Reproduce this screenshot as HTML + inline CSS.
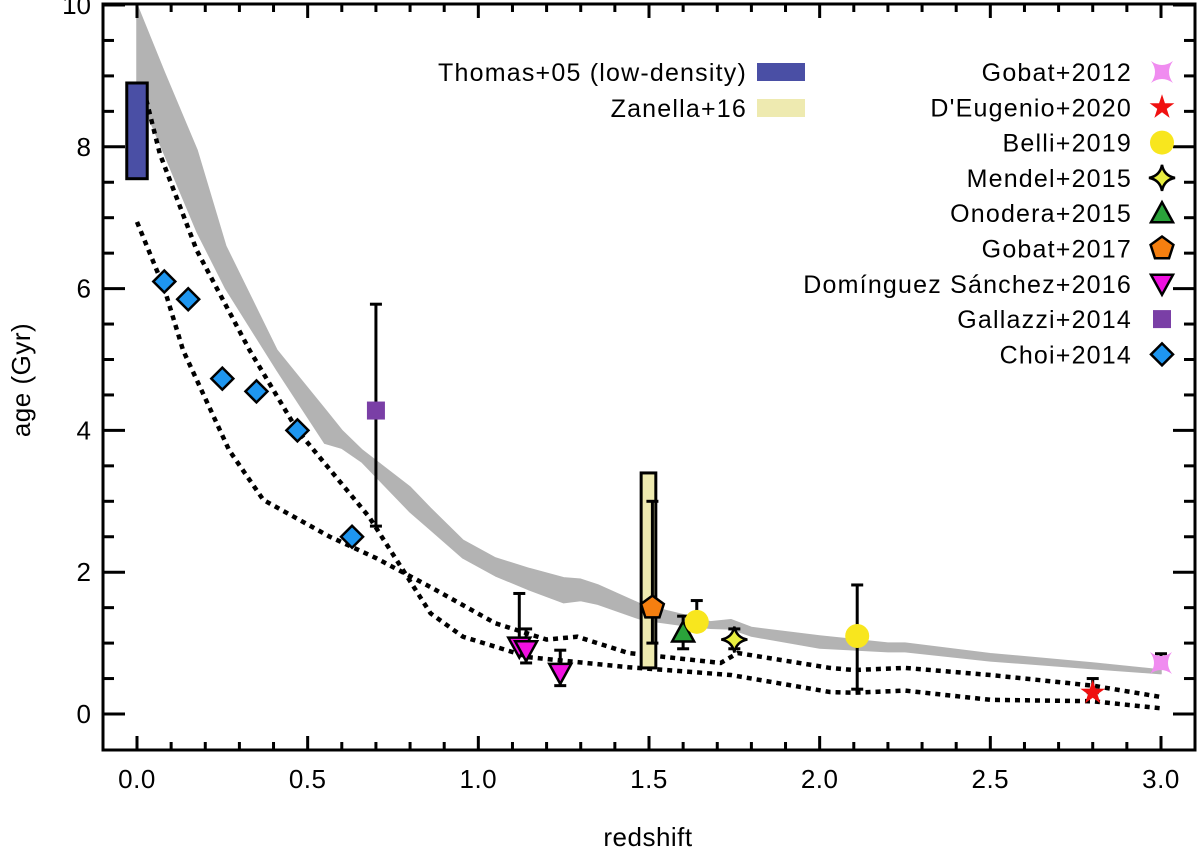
<!DOCTYPE html>
<html><head><meta charset="utf-8"><style>
html,body{margin:0;padding:0;background:#fff}
svg{display:block;font-family:"Liberation Sans",Arial,sans-serif}
</style></head><body>
<svg id="chart" width="1200" height="852" viewBox="0 0 1200 852"></svg>
<script>
const xTicks=[0,0.5,1.0,1.5,2.0,2.5,3.0];
const xTickLabels=["0.0","0.5","1.0","1.5","2.0","2.5","3.0"];
const yTicks=[0,2,4,6,8,10];
const yTickLabels=["0","2","4","6","8","10"];
const bandZ=[0,0.08,0.176,0.26,0.41,0.55,0.6,0.66,0.8,0.86,0.955,1.05,1.15,1.25,1.3,1.35,1.48,1.6,1.68,1.74,1.8,2.0,2.2,2.25,2.5,2.8,3.0];
const bandUpper=[10,9.05,7.95,6.6,5.13,4.3,4.0,3.72,3.2,2.9,2.45,2.2,2.05,1.92,1.9,1.82,1.54,1.4,1.3,1.33,1.22,1.1,1.0,1.0,0.85,0.72,0.62];
const bandLower=[8.8,7.9,6.8,6.0,4.85,3.82,3.75,3.55,2.85,2.6,2.2,1.95,1.75,1.57,1.6,1.55,1.33,1.25,1.21,1.2,1.1,0.93,0.88,0.88,0.75,0.64,0.57];
const lineAZ=[0.02,0.067,0.175,0.33,0.47,0.68,0.86,0.955,1.15,1.44,1.74,2.03,2.1,2.25,2.5,2.8,3.0];
const lineAV=[8.8,7.9,6.54,5.13,4.0,2.78,1.42,1.09,0.8,0.66,0.55,0.31,0.3,0.33,0.2,0.18,0.08];
const lineBZ=[0,0.08,0.135,0.27,0.37,0.565,0.7,0.86,1.05,1.2,1.29,1.44,1.71,1.76,2.03,2.1,2.25,2.5,2.8,3.0];
const lineBV=[6.94,6.0,5.13,3.72,3.02,2.5,2.2,1.79,1.28,1.05,1.09,0.86,0.72,0.86,0.65,0.62,0.65,0.55,0.4,0.24];
const choiZ=[0.08,0.15,0.25,0.35,0.47,0.63];
const choiAge=[6.1,5.85,4.73,4.55,4.0,2.5];
const gallazzi=[0.7,4.28,2.65,5.78];
const domZ=[1.12,1.14,1.24];
const domAge=[0.95,0.9,0.58];
const domLo=[0.95,0.72,0.4];
const domHi=[1.7,1.2,0.9];
const zanellaBox=[1.477,1.52,0.65,3.4];
const thomasBox=[-0.03,0.03,7.55,8.9];
const gobat17=[1.51,1.5,1.0,3.0];
const onodera=[1.6,1.15,0.92,1.38];
const belliZ=[1.64,2.11];
const belliAge=[1.3,1.1];
const belliLo=[1.3,0.35];
const belliHi=[1.6,1.82];
const mendel=[1.75,1.05,0.92,1.2];
const deugenio=[2.8,0.3,0.3,0.5];
const gobat12=[3.0,0.72,0.72,0.85];

const NS="http://www.w3.org/2000/svg";
const svg=document.getElementById('chart');
const X=z=>137+341.33*z;
const Y=v=>714-70.9*v;
function mk(tag,attrs,parent){const e=document.createElementNS(NS,tag);for(const k in attrs)e.setAttribute(k,attrs[k]);(parent||svg).appendChild(e);return e;}
const L=103,R=1195,T=4,B=750;

let d="";bandZ.forEach((z,i)=>{d+=(i?"L":"M")+X(z)+","+Y(bandUpper[i]);});
for(let i=bandZ.length-1;i>=0;i--)d+="L"+X(bandZ[i])+","+Y(bandLower[i]);
let band=mk('path',{d:d+"Z",fill:"#b3b3b3","stroke":"#b3b3b3","stroke-width":1.5,"stroke-linejoin":"round"});



function dotted(zs,vs,name){let p="";zs.forEach((z,i)=>{p+=(i?"L":"M")+X(z)+","+Y(vs[i]);});
const e=mk('path',{d:p,fill:"none",stroke:"#000","stroke-width":4.5,"stroke-dasharray":"5,5"});

}
dotted(lineAZ,lineAV,'dotted-track-a');
dotted(lineBZ,lineBV,'dotted-track-b');

function errbar(z,lo,hi,name){const g=mk('g',{stroke:"#000","stroke-width":3});


mk('line',{x1:X(z),x2:X(z),y1:Y(lo),y2:Y(hi)},g);
mk('line',{x1:X(z)-6,x2:X(z)+6,y1:Y(hi),y2:Y(hi)},g);
if(lo!==hi)mk('line',{x1:X(z)-6,x2:X(z)+6,y1:Y(lo),y2:Y(lo)},g);}

function box(b,fill,name){const e=mk('rect',{x:X(b[0]),y:Y(b[3]),width:X(b[1])-X(b[0]),height:Y(b[2])-Y(b[3]),fill:fill,stroke:"#000","stroke-width":3});

}
box(thomasBox,"#4a4fa5",'thomas05-box');
box(zanellaBox,"#eeeab0",'zanella16-box');

function marker(type,cx,cy,parent,name){let e;
if(type==="diamond")e=mk('path',{d:`M${cx},${cy-11}L${cx+11},${cy}L${cx},${cy+11}L${cx-11},${cy}Z`,fill:"#1e96f0",stroke:"#000","stroke-width":2.5},parent);
else if(type==="square")e=mk('rect',{x:cx-9,y:cy-9,width:18,height:18,fill:"#7a3fa6"},parent);
else if(type==="tridown")e=mk('path',{d:`M${cx-11},${cy-9}L${cx+11},${cy-9}L${cx},${cy+11}Z`,fill:"#f010e0",stroke:"#000","stroke-width":2.5},parent);
else if(type==="triup")e=mk('path',{d:`M${cx-11},${cy+9}L${cx+11},${cy+9}L${cx},${cy-11}Z`,fill:"#2aa33a",stroke:"#000","stroke-width":2.5},parent);
else if(type==="pent"){let p="";for(let k=0;k<5;k++){const a=-Math.PI/2+k*2*Math.PI/5;p+=(k?"L":"M")+(cx+12*Math.cos(a))+","+(cy+12*Math.sin(a));}
e=mk('path',{d:p+"Z",fill:"#f57f10",stroke:"#000","stroke-width":2.5},parent);}
else if(type==="circle")e=mk('circle',{cx:cx,cy:cy,r:12,fill:"#f8e61e"},parent);
else if(type==="star4")e=mk('path',{d:`M${cx},${cy-13}Q${cx+2},${cy-2} ${cx+13},${cy}Q${cx+2},${cy+2} ${cx},${cy+13}Q${cx-2},${cy+2} ${cx-13},${cy}Q${cx-2},${cy-2} ${cx},${cy-13}Z`,fill:"#e8ee40",stroke:"#000","stroke-width":2.5},parent);
else if(type==="star5"){let p="";for(let k=0;k<10;k++){const a=-Math.PI/2+k*Math.PI/5,r=k%2?5:13;p+=(k?"L":"M")+(cx+r*Math.cos(a))+","+(cy+r*Math.sin(a));}
e=mk('path',{d:p+"Z",fill:"#f01010"},parent);}
else if(type==="cross")e=mk('path',{d:`M${cx-11},${cy-11}Q${cx},${cy-3} ${cx+11},${cy-11}Q${cx+3},${cy} ${cx+11},${cy+11}Q${cx},${cy+3} ${cx-11},${cy+11}Q${cx-3},${cy} ${cx-11},${cy-11}Z`,fill:"#f08cf0"},parent);


return e;}

errbar(gallazzi[0],gallazzi[2],gallazzi[3],'gallazzi-errorbar');
domZ.forEach((z,i)=>errbar(z,domLo[i],domHi[i],'dominguez-errorbar'));
errbar(gobat17[0],gobat17[2],gobat17[3],'gobat17-errorbar');
errbar(onodera[0],onodera[2],onodera[3],'onodera-errorbar');
belliZ.forEach((z,i)=>errbar(z,belliLo[i],belliHi[i],'belli-errorbar'));
errbar(mendel[0],mendel[2],mendel[3],'mendel-errorbar');
errbar(deugenio[0],deugenio[2],deugenio[3],'deugenio-errorbar');
errbar(gobat12[0],gobat12[2],gobat12[3],'gobat12-errorbar');

choiZ.forEach((z,i)=>marker("diamond",X(z),Y(choiAge[i]),svg,'choi-point'));
marker("square",X(gallazzi[0]),Y(gallazzi[1]),svg,'gallazzi-point');
domZ.forEach((z,i)=>marker("tridown",X(z),Y(domAge[i]),svg,'dominguez-point'));
marker("pent",X(gobat17[0]),Y(gobat17[1]),svg,'gobat17-point');
marker("triup",X(onodera[0]),Y(onodera[1]),svg,'onodera-point');
belliZ.forEach((z,i)=>marker("circle",X(z),Y(belliAge[i]),svg,'belli-point'));
marker("star4",X(mendel[0]),Y(mendel[1]),svg,'mendel-point');
marker("star5",X(deugenio[0]),Y(deugenio[1]),svg,'deugenio-point');
marker("cross",X(gobat12[0]),Y(gobat12[1]),svg,'gobat12-point');

const ax=mk('g',{stroke:"#000","stroke-width":3,fill:"none"});


mk('rect',{x:L,y:T,width:R-L,height:B-T},ax);
for(let i=0;i<=30;i++){const z=i/10,x=X(z),len=(i%5===0)?14:8;
mk('line',{x1:x,x2:x,y1:B,y2:B-len},ax);mk('line',{x1:x,x2:x,y1:T,y2:T+len},ax);}
for(let i=0;i<=20;i++){const v=i/2,y=Y(v),len=(i%4===0)?22:11;if(y<T)continue;
mk('line',{x1:L,x2:L+len,y1:y,y2:y},ax);mk('line',{x1:R,x2:R-len,y1:y,y2:y},ax);}
xTicks.forEach((z,i)=>{const t=mk('text',{x:X(z),y:788,"text-anchor":"middle","font-size":26,"letter-spacing":0.5,fill:"#000"});t.textContent=xTickLabels[i];

});
yTicks.forEach((v,i)=>{const t=mk('text',{x:91,y:Y(v)+9,"text-anchor":"end","font-size":26,fill:"#000"});t.textContent=yTickLabels[i];

});
let xt=mk('text',{x:648,y:846,"text-anchor":"middle","font-size":26,"letter-spacing":0.5});xt.textContent="redshift";


let yt=mk('text',{x:30,y:380,"text-anchor":"middle","font-size":26,"letter-spacing":0.5,transform:"rotate(-90 30 380)"});yt.textContent="age (Gyr)";



const lg=mk('g',{});


function ltext(x,y,s){const t=mk('text',{x:x,y:y+9,"text-anchor":"end","font-size":25,"letter-spacing":1.2},lg);t.textContent=s;

}
ltext(747,72,"Thomas+05 (low-density)");
let s1=mk('rect',{x:757,y:63,width:48,height:18,fill:"#4a4fa5"},lg);


ltext(747,108,"Zanella+16");
let s2=mk('rect',{x:757,y:99,width:48,height:18,fill:"#eeeab0"},lg);


const legNames=["Gobat+2012","D'Eugenio+2020","Belli+2019","Mendel+2015","Onodera+2015","Gobat+2017","Domínguez Sánchez+2016","Gallazzi+2014","Choi+2014"];
const legTypes=["cross","star5","circle","star4","triup","pent","tridown","square","diamond"];
legNames.forEach((n,i)=>{const y=72+35.3*i;ltext(1132,y,n);marker(legTypes[i],1162,y,lg,'legend-marker');});
</script>
</body></html>
